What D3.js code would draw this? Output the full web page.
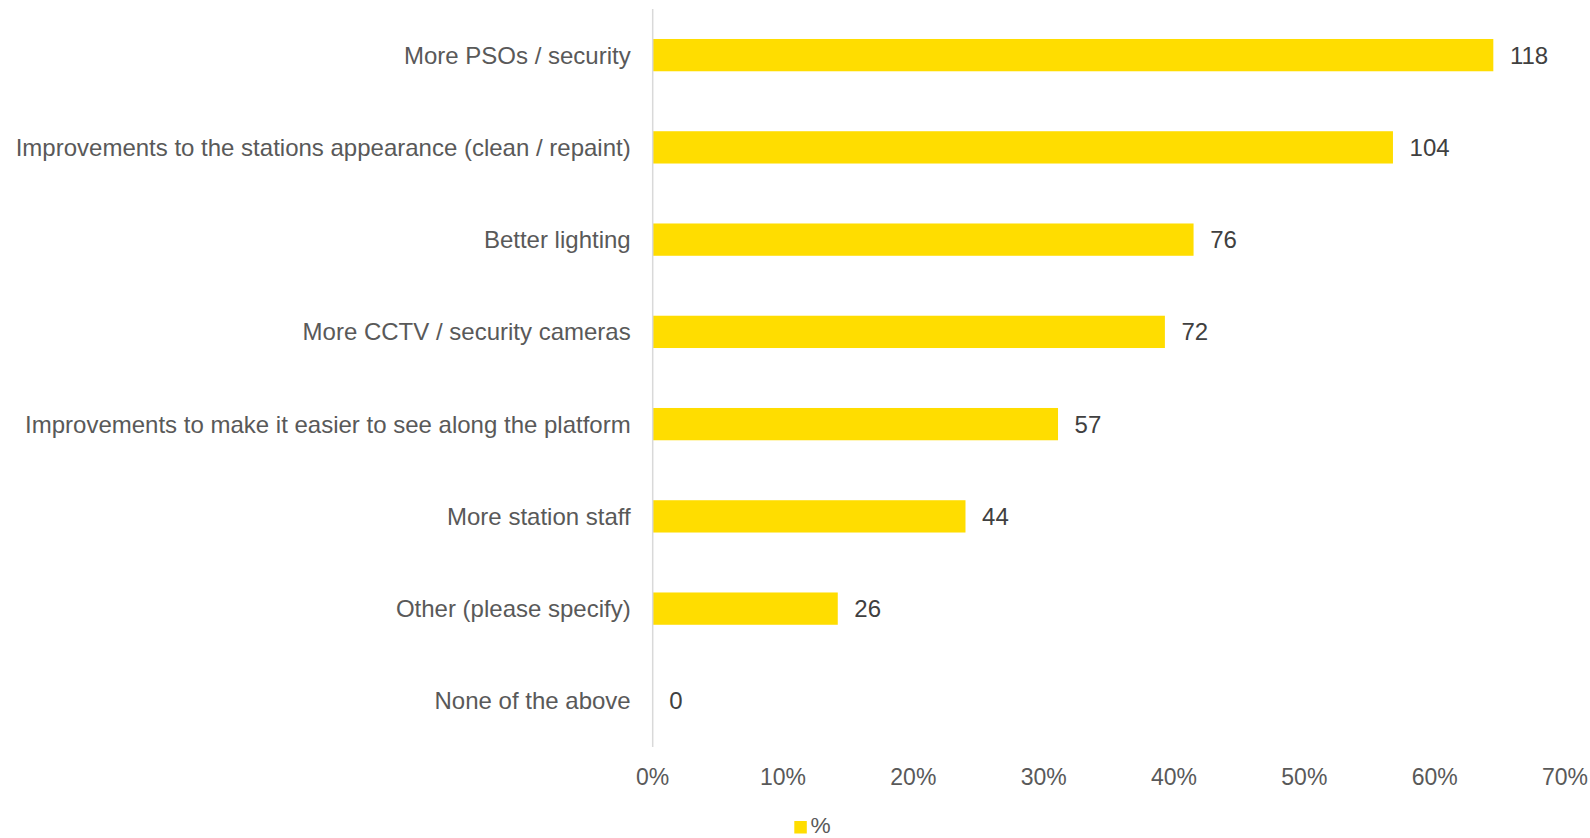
<!DOCTYPE html>
<html><head><meta charset="utf-8">
<script src="https://cdn.jsdelivr.net/npm/d3@7"></script>
<style>body{margin:0;background:#fff;}svg{display:block;font-family:"Liberation Sans",Arial,sans-serif;}</style>
</head><body>
<svg id="chart" width="1590" height="838"></svg>
<script>
const categories = ["More PSOs / security","Improvements to the stations appearance (clean / repaint)","Better lighting","More CCTV / security cameras","Improvements to make it easier to see along the platform","More station staff","Other (please specify)","None of the above"];
const percents = [64.5, 56.8, 41.5, 39.3, 31.1, 24.0, 14.2, 0];
const counts = [118, 104, 76, 72, 57, 44, 26, 0];
const ticks = [0,10,20,30,40,50,60,70];
const seriesName = "%";

const svg = d3.select("#chart");
const x0 = 652.7, x1 = 1565, yTop = 9, yBot = 747;
const x = d3.scaleLinear().domain([0,70]).range([x0,x1]);
const y = d3.scaleBand().domain(categories).range([yTop,yBot]).paddingInner(0.65).paddingOuter(0.325);

svg.selectAll("rect.bar").data(categories).enter().append("rect")
  .attr("class","bar").attr("x",x(0)).attr("y",d=>y(d))
  .attr("width",(d,i)=>x(percents[i])-x(0)).attr("height",y.bandwidth())
  .attr("fill","#FFDD00");

svg.append("line").attr("x1",x0).attr("x2",x0).attr("y1",yTop).attr("y2",yBot)
  .attr("stroke","#d9d9d9").attr("stroke-width",1.5);

svg.selectAll("text.cat").data(categories).enter().append("text")
  .attr("x",x0-22).attr("y",d=>y(d)+y.bandwidth()/2).attr("dy","0.35em")
  .attr("text-anchor","end").attr("font-size",24).attr("fill","#595959").text(d=>d);

svg.selectAll("text.val").data(categories).enter().append("text")
  .attr("x",(d,i)=>x(percents[i])+16.6).attr("y",d=>y(d)+y.bandwidth()/2).attr("dy","0.35em")
  .attr("font-size",24).attr("fill","#404040").text((d,i)=>counts[i]);

svg.selectAll("text.tick").data(ticks).enter().append("text")
  .attr("x",d=>x(d)).attr("y",776.7).attr("dy","0.35em").attr("text-anchor","middle")
  .attr("font-size",23).attr("fill","#595959").text(d=>d+"%");

svg.append("rect").attr("x",794.3).attr("y",821).attr("width",12.5).attr("height",12.5).attr("fill","#FFDD00");
svg.append("text").attr("x",810.5).attr("y",833).attr("font-size",22.7).attr("fill","#595959").text(seriesName);
</script>
</body></html>
